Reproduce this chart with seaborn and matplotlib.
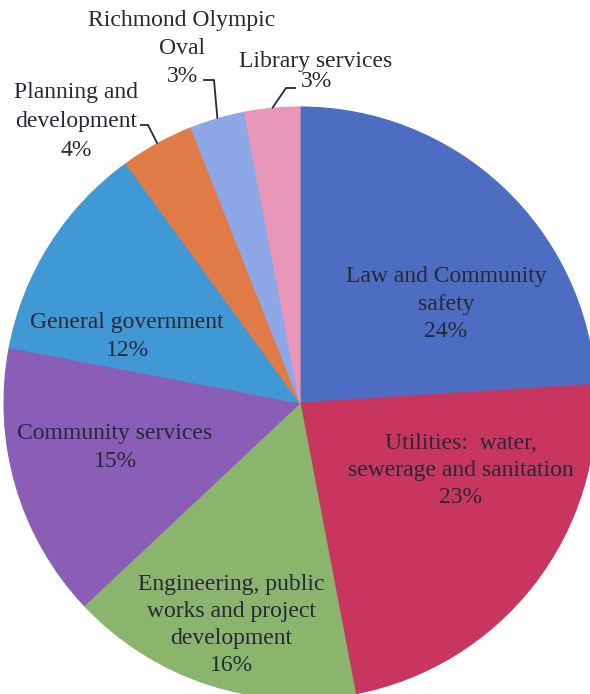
import matplotlib
matplotlib.use("Agg")
import numpy as np
import matplotlib.pyplot as plt
import seaborn as sns

# Budget shares by service area (percent), clockwise from 12 o'clock
categories = [
    "Law and Community\nsafety",
    "Utilities:  water,\nsewerage and sanitation",
    "Engineering, public\nworks and project\ndevelopment",
    "Community services",
    "General government",
    "Planning and\ndevelopment",
    "Richmond Olympic\nOval",
    "Library services",
]
shares = [24, 23, 16, 15, 12, 4, 3, 3]
colors = ["#4C6DC2", "#C8365F", "#8BB46D", "#8A5DB7",
          "#4098D5", "#E07B47", "#8EA7E6", "#E997B8"]

sns.set_theme(style="white")
plt.rcParams["font.family"] = ["Liberation Serif", "DejaVu Serif"]

W, H = 590, 694
fig = plt.figure(figsize=(W / 100, H / 100), dpi=100)
ax = fig.add_axes([0, 0, 1, 1])

# pie geometry in pixel units (y grows downward)
CX, CY, R = 300, 403, 296
wedges, _ = ax.pie(shares, colors=colors, startangle=-90, counterclock=True,
                   center=(CX, CY), radius=R,
                   wedgeprops=dict(linewidth=0.8))
for w in wedges:
    w.set_edgecolor(w.get_facecolor())

ax.set_xlim(0, W)
ax.set_ylim(H, 0)
ax.set_aspect("equal")
ax.axis("off")

TXT = "#262838"
FS = 17

# label block centre (x, y) and distance between lines, in pixels
label_pos = [
    (446, 304, 27.5),
    (461, 470, 27),
    (231, 625, 26.7),
    (115, 447, 28),
    (127, 336, 28),
    (76, 121, 29),
    (182, 48, 28),
    (316, 71, 20),
]
for name, v, (x, y, step) in zip(categories, shares, label_pos):
    lines = name.split("\n") + [f"{v}%"]
    n = len(lines)
    for k, line in enumerate(lines):
        ax.text(x, y + (k - (n - 1) / 2) * step, line, ha="center",
                va="center", fontsize=FS, color=TXT)

# leader lines for the thin outer slices: (slice index, start x, start y, elbow x)
leaders = [(5, 140, 125, 148), (6, 203, 80, 214), (7, 296, 88, 286)]
cum = np.concatenate([[0], np.cumsum(shares)])
for i, sx, sy, kx in leaders:
    theta = np.deg2rad(-90 + 360 * (cum[i] + shares[i] / 2) / 100)
    ex, ey = CX + R * np.cos(theta), CY + R * np.sin(theta)
    ax.plot([sx, kx, ex], [sy, sy, ey], color=TXT, lw=1.3,
            solid_capstyle="butt")

fig.savefig("out.png", dpi=100, facecolor="white")
